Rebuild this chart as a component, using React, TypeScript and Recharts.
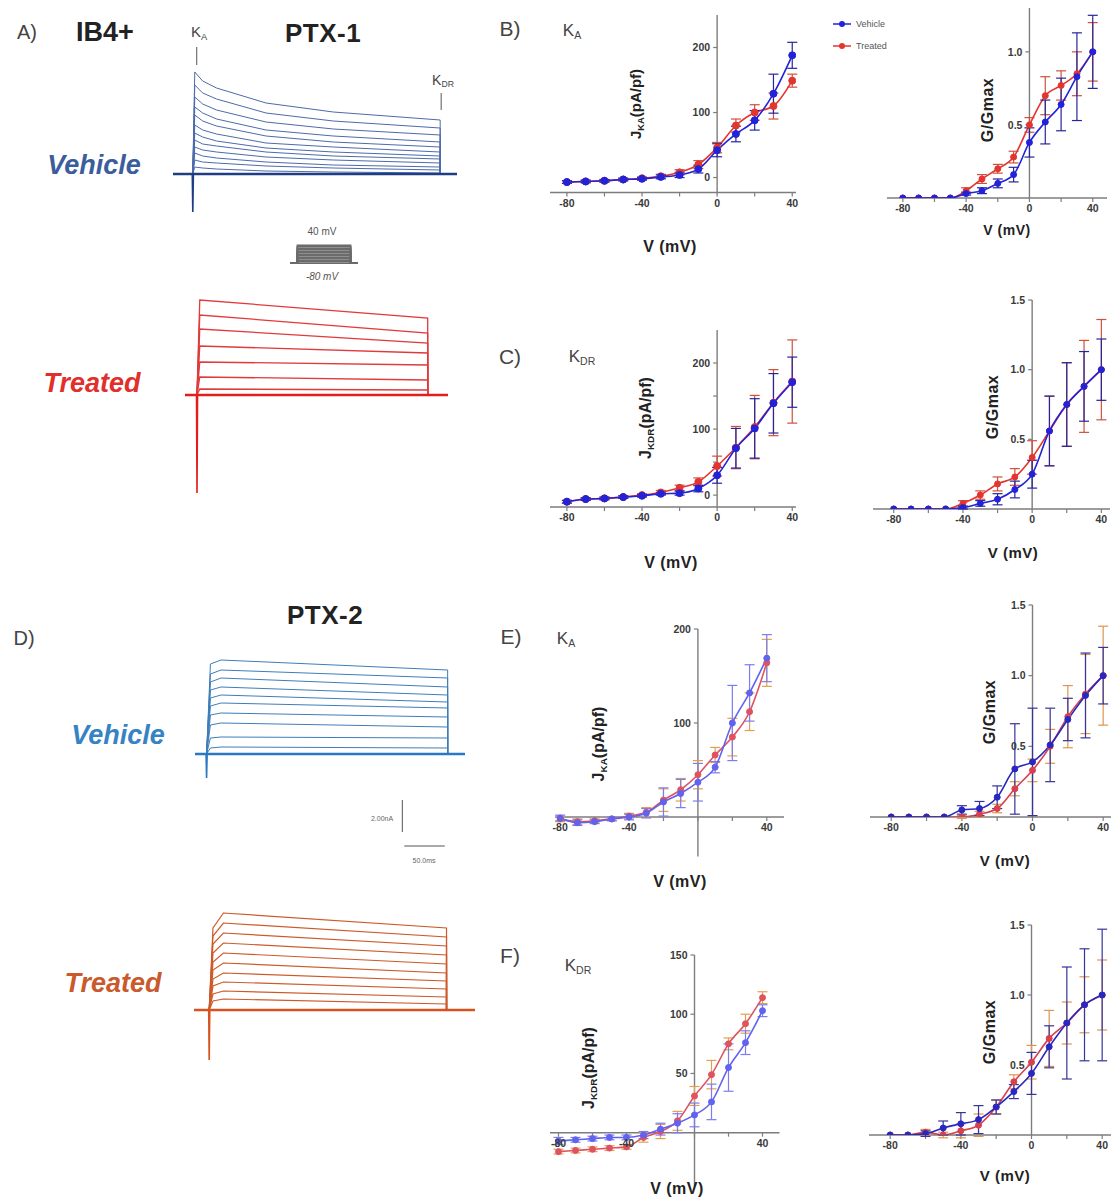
import React from "react";
import { LineChart, Line, XAxis, YAxis, ReferenceLine, ErrorBar, Legend } from "recharts";

const FONT = '"Liberation Sans", Arial, Helvetica, sans-serif';

// test potentials (mV)
const volts = [-80, -70, -60, -50, -40, -30, -20, -10, 0, 10, 20, 30, 40];

// B) KA, PTX-1 : current density and G/Gmax
const bIvVeh = [-7, -6, -5, -3, -2, 1, 4, 13, 42, 67, 88, 129, 188];
const bIvVehErr = [2, 2, 2, 2, 2, 3, 4, 6, 10, 12, 15, 30, 20];
const bIvTrt = [-7, -6, -5, -3, -1, 2, 8, 20, 46, 80, 100, 110, 149];
const bIvTrtErr = [2, 2, 2, 2, 2, 3, 4, 6, 8, 10, 12, 20, 10];
const bGVeh = [0, 0, 0, 0, 0.03, 0.05, 0.1, 0.16, 0.38, 0.52, 0.64, 0.83, 1.0];
const bGVehErr = [0, 0, 0, 0, 0.01, 0.02, 0.03, 0.05, 0.1, 0.15, 0.18, 0.3, 0.25];
const bGTrt = [0, 0, 0, 0, 0.05, 0.13, 0.2, 0.28, 0.5, 0.7, 0.77, 0.85, 1.0];
const bGTrtErr = [0, 0, 0, 0, 0.02, 0.03, 0.03, 0.04, 0.05, 0.13, 0.1, 0.15, 0.2];

// C) KDR, PTX-1
const cIvVeh = [-10, -6, -5, -3, -1, 2, 3, 10, 30, 71, 101, 139, 171];
const cIvVehErr = [2, 2, 2, 2, 2, 2, 3, 5, 12, 30, 45, 45, 38];
const cIvTrt = [-10, -6, -5, -3, 0, 4, 11, 20, 44, 72, 103, 140, 172];
const cIvTrtErr = [2, 2, 2, 2, 2, 3, 4, 6, 15, 32, 48, 50, 63];
const cGVeh = [0, 0, 0, 0, 0.01, 0.04, 0.07, 0.14, 0.25, 0.56, 0.75, 0.88, 1.0];
const cGVehErr = [0, 0, 0, 0, 0.01, 0.02, 0.04, 0.06, 0.1, 0.25, 0.3, 0.25, 0.22];
const cGTrt = [0, 0, 0, 0, 0.04, 0.1, 0.18, 0.23, 0.37, 0.56, 0.75, 0.88, 1.0];
const cGTrtErr = [0, 0, 0, 0, 0.02, 0.03, 0.05, 0.06, 0.12, 0.25, 0.3, 0.33, 0.36];

// E) KA, PTX-2
const eIvVeh = [-1, -6, -5, -2, 0, 4, 16, 25, 37, 53, 100, 132, 169];
const eIvVehErr = [3, 3, 2, 2, 3, 5, 15, 15, 20, 6, 40, 30, 25];
const eIvTrt = [-2, -5, -4, -2, 1, 5, 18, 29, 45, 66, 85, 112, 164];
const eIvTrtErr = [3, 3, 2, 2, 3, 5, 12, 12, 15, 8, 20, 20, 25];
const eGVeh = [0, 0, 0, 0, 0.05, 0.06, 0.14, 0.34, 0.39, 0.51, 0.69, 0.86, 1.0];
const eGVehErr = [0, 0, 0, 0, 0.03, 0.05, 0.08, 0.32, 0.38, 0.26, 0.15, 0.3, 0.2];
const eGTrt = [0, 0, 0, 0, 0, 0.02, 0.06, 0.2, 0.33, 0.5, 0.71, 0.87, 1.0];
const eGTrtErr = [0, 0, 0, 0, 0.01, 0.02, 0.03, 0.05, 0.08, 0.12, 0.22, 0.28, 0.35];

// F) KDR, PTX-2
const fIvVeh = [-7, -6, -5, -4, -4, -2, 3, 8, 15, 26, 55, 76, 103];
const fIvVehErr = [3, 2, 2, 2, 2, 3, 5, 8, 10, 15, 20, 10, 5];
const fIvTrt = [-16, -15, -14, -13, -12, -4, 1, 10, 31, 49, 75, 92, 114];
const fIvTrtErr = [2, 2, 2, 2, 2, 4, 6, 8, 8, 12, 5, 8, 5];
const fGVeh = [0, 0, 0.01, 0.05, 0.08, 0.11, 0.2, 0.31, 0.44, 0.63, 0.8, 0.93, 1.0];
const fGVehErr = [0, 0, 0.02, 0.05, 0.08, 0.1, 0.05, 0.05, 0.15, 0.15, 0.4, 0.4, 0.47];
const fGTrt = [0, 0, 0.02, 0, 0.03, 0.07, 0.2, 0.38, 0.52, 0.69, 0.8, 0.93, 1.0];
const fGTrtErr = [0, 0, 0.02, 0.02, 0.05, 0.08, 0.05, 0.05, 0.12, 0.2, 0.15, 0.2, 0.25];

// A) PTX-1 raw traces (arbitrary current units, ms)
const veh1Times = [2, 10, 24, 74, 142, 250];
const veh1Levels = [
  [102, 93, 86, 71, 62, 54],
  [89, 81, 75, 61, 53, 46],
  [77, 70, 64, 52, 45, 39],
  [67, 61, 55, 44, 38, 32],
  [59, 53, 48, 38, 32, 27],
  [49, 44, 40, 31, 27, 22],
  [41, 37, 33, 26, 22, 18],
  [34, 30, 28, 22, 18, 15],
  [27, 24, 22, 17, 14, 11],
  [21, 18, 16, 12, 9, 7],
  [14, 12, 11, 8, 6, 4],
  [7, 6, 5, 3, 2, 1],
];
const trt1Times = [3, 250];
const trt1Levels = [
  [95, 77],
  [80, 62],
  [66, 52],
  [49, 42],
  [33, 30],
  [18, 15],
  [6, 5],
];

// D) PTX-2 raw traces
const veh2Times = [4, 15, 250];
const veh2Levels = [
  [90, 94, 84],
  [80, 84, 76],
  [72, 76, 67],
  [64, 67, 59],
  [56, 59, 52],
  [48, 51, 46],
  [39, 41, 37],
  [29, 31, 27],
  [16, 17, 16],
  [6, 7, 6],
];
const trt2Times = [4, 15, 250];
const trt2Levels = [
  [82, 97, 82],
  [74, 87, 73],
  [66, 77, 64],
  [57, 67, 55],
  [48, 57, 46],
  [40, 47, 37],
  [31, 37, 29],
  [24, 28, 21],
  [16, 19, 13],
  [9, 11, 6],
];
const STEP_END = 250;

// voltage protocol (holding -80 mV, steps to +40 mV)
const protoSteps = volts;
const PROTO_HOLD = -80;
const PROTO_END = 58;

type Row = { v: number; veh: number; vehErr: number; trt: number; trtErr: number };
const rowsOf = (veh: number[], vehErr: number[], trt: number[], trtErr: number[]): Row[] =>
  volts.map((v, i) => ({ v, veh: veh[i], vehErr: vehErr[i], trt: trt[i], trtErr: trtErr[i] }));

const M = 30;
const AXIS = "#7d7d7d";
const TICK_TXT = "#3a3a3a";

function Sub({ children }: { children: React.ReactNode }) {
  return <span style={{ fontSize: "0.62em", verticalAlign: "-0.3em" }}>{children}</span>;
}

function T({
  x,
  y,
  size = 12,
  bold = false,
  italic = false,
  color = "#333",
  rot = false,
  spacing = 0,
  children,
}: {
  x: number;
  y: number;
  size?: number;
  bold?: boolean;
  italic?: boolean;
  color?: string;
  rot?: boolean;
  spacing?: number;
  children: React.ReactNode;
}) {
  return (
    <div
      style={{
        position: "absolute",
        left: x,
        top: y,
        transform: `translate(-50%,-50%)${rot ? " rotate(-90deg)" : ""}`,
        fontFamily: FONT,
        fontSize: size,
        fontWeight: bold ? 700 : 400,
        fontStyle: italic ? "italic" : "normal",
        letterSpacing: spacing,
        color,
        whiteSpace: "nowrap",
        lineHeight: 1,
      }}
    >
      {children}
    </div>
  );
}

const legendContent = (props: any) => {
  const items = [...(props.payload ?? [])].sort((a: any) => (a.value === "Vehicle" ? -1 : 1));
  return (
    <div style={{ fontFamily: FONT, fontSize: 9, color: "#555" }}>
      {items.map((p: any) => (
        <div key={p.value} style={{ display: "flex", alignItems: "center", height: 22 }}>
          <svg width={18} height={8}>
            <line x1={0} y1={4} x2={18} y2={4} stroke={p.color} strokeWidth={1.5} />
            <circle cx={9} cy={4} r={3} fill={p.color} />
          </svg>
          <span style={{ marginLeft: 5 }}>{p.value}</span>
        </div>
      ))}
    </div>
  );
};

/** IV or G/Gmax plot: x axis may float (GraphPad style), y axis sits at V = 0. */
function CurvePanel({
  px,
  py,
  xDom,
  yDom,
  rows,
  xAxisAt,
  yAxisFrom,
  xTicks,
  xLabels,
  yTicks,
  yLabels,
  digits = 0,
  vehColor,
  trtColor,
  vehErr,
  trtErr,
  dotR = 3,
  legend = false,
}: {
  px: [number, number];
  py: [number, number];
  xDom: [number, number];
  yDom: [number, number];
  rows: Row[];
  xAxisAt: number;
  yAxisFrom: number;
  xTicks: number[];
  xLabels: number[];
  yTicks: number[];
  yLabels: number[];
  digits?: number;
  vehColor: string;
  trtColor: string;
  vehErr: string;
  trtErr: string;
  dotR?: number;
  legend?: boolean;
}) {
  const w = px[1] - px[0];
  const h = py[1] - py[0];
  const xLen = 4 / (w / (xDom[1] - xDom[0]));
  const yLen = 4 / (h / (yDom[1] - yDom[0]));
  const lbl = (text: string, position: "bottom" | "left") => ({
    value: text,
    position,
    offset: 3,
    fill: TICK_TXT,
    fontSize: 10.5,
    fontWeight: 700,
    fontFamily: FONT,
  });
  return (
    <div style={{ position: "absolute", left: px[0] - M, top: py[0] - M }}>
      <LineChart width={w + 2 * M} height={h + 2 * M} data={rows} margin={{ top: M, right: M, bottom: M, left: M }}>
        <XAxis type="number" dataKey="v" domain={xDom} hide allowDataOverflow />
        <YAxis type="number" domain={yDom} hide allowDataOverflow />
        <ReferenceLine
          segment={[
            { x: xDom[0], y: xAxisAt },
            { x: xDom[1], y: xAxisAt },
          ]}
          stroke={AXIS}
          strokeWidth={1.4}
          ifOverflow="visible"
        />
        <ReferenceLine
          segment={[
            { x: 0, y: yAxisFrom },
            { x: 0, y: yDom[1] },
          ]}
          stroke={AXIS}
          strokeWidth={1.4}
          ifOverflow="visible"
        />
        {xTicks.map((t) => (
          <ReferenceLine
            key={`x${t}`}
            segment={[
              { x: t, y: xAxisAt - yLen },
              { x: t, y: xAxisAt },
            ]}
            stroke={AXIS}
            strokeWidth={1.2}
            ifOverflow="visible"
            label={xLabels.includes(t) ? lbl(String(t), "bottom") : undefined}
          />
        ))}
        {yTicks.map((t) => (
          <ReferenceLine
            key={`y${t}`}
            segment={[
              { x: -xLen, y: t },
              { x: 0, y: t },
            ]}
            stroke={AXIS}
            strokeWidth={1.2}
            ifOverflow="visible"
            label={yLabels.includes(t) ? lbl(t.toFixed(digits), "left") : undefined}
          />
        ))}
        <Line
          type="monotone"
          dataKey="trt"
          name="Treated"
          stroke={trtColor}
          strokeWidth={1.6}
          dot={{ r: dotR, fill: trtColor, stroke: trtColor, strokeWidth: 1 }}
          activeDot={false}
          isAnimationActive={false}
        >
          <ErrorBar dataKey="trtErr" width={5} stroke={trtErr} strokeWidth={1.2} direction="y" isAnimationActive={false} />
        </Line>
        <Line
          type="monotone"
          dataKey="veh"
          name="Vehicle"
          stroke={vehColor}
          strokeWidth={1.6}
          dot={{ r: dotR, fill: vehColor, stroke: vehColor, strokeWidth: 1 }}
          activeDot={false}
          isAnimationActive={false}
        >
          <ErrorBar dataKey="vehErr" width={5} stroke={vehErr} strokeWidth={1.2} direction="y" isAnimationActive={false} />
        </Line>
        {legend && (
          <Legend
            layout="vertical"
            align="center"
            verticalAlign="middle"
            content={legendContent}
            wrapperStyle={{ left: 833 - (px[0] - M), top: 13 - (py[0] - M), width: 90 }}
          />
        )}
      </LineChart>
    </div>
  );
}

/** Family of whole-cell current traces evoked by the step protocol. */
function TraceFamily({
  px,
  py,
  tDom,
  yDom,
  times,
  levels,
  spike,
  color,
  baseColor,
  width = 1,
  extras = [],
}: {
  px: [number, number];
  py: [number, number];
  tDom: [number, number];
  yDom: [number, number];
  times: number[];
  levels: number[][];
  spike: number;
  color: string;
  baseColor: string;
  width?: number;
  extras?: React.ReactElement[];
}) {
  const mt = 50;
  const mb = 120;
  const ml = 10;
  const mr = 10;
  const traces = levels.map((lv) => [
    { t: tDom[0], i: 0 },
    { t: 0, i: 0 },
    ...times.map((t, k) => ({ t, i: lv[k] })),
    { t: STEP_END, i: 0 },
    { t: tDom[1], i: 0 },
  ]);
  const base = [
    { t: tDom[0], i: 0 },
    { t: tDom[1], i: 0 },
  ];
  const spikeRows = [
    { t: -0.5, i: 0 },
    { t: 0, i: spike },
    { t: 0.6, i: 0 },
  ];
  return (
    <div style={{ position: "absolute", left: px[0] - ml, top: py[0] - mt }}>
      <LineChart
        width={px[1] - px[0] + ml + mr}
        height={py[1] - py[0] + mt + mb}
        margin={{ top: mt, right: mr, bottom: mb, left: ml }}
      >
        <XAxis type="number" dataKey="t" domain={tDom} hide allowDataOverflow />
        <YAxis type="number" dataKey="i" domain={yDom} hide allowDataOverflow />
        {traces.map((d, k) => (
          <Line
            key={k}
            data={d}
            dataKey="i"
            type="linear"
            stroke={color}
            strokeWidth={width}
            dot={false}
            activeDot={false}
            isAnimationActive={false}
          />
        ))}
        <Line data={base} dataKey="i" stroke={baseColor} strokeWidth={2.6} dot={false} activeDot={false} isAnimationActive={false} />
        <Line data={spikeRows} dataKey="i" stroke={baseColor} strokeWidth={1.6} dot={false} activeDot={false} isAnimationActive={false} />
        {extras}
      </LineChart>
    </div>
  );
}

/** Voltage-step protocol inset. */
function Protocol() {
  const px: [number, number] = [290, 358];
  const py: [number, number] = [244, 264];
  const tDom: [number, number] = [-8, 66];
  const yDom: [number, number] = [-85, 48];
  return (
    <div style={{ position: "absolute", left: px[0], top: py[0] }}>
      <LineChart width={px[1] - px[0]} height={py[1] - py[0]} margin={{ top: 0, right: 0, bottom: 0, left: 0 }}>
        <XAxis type="number" dataKey="t" domain={tDom} hide allowDataOverflow />
        <YAxis type="number" dataKey="mv" domain={yDom} hide allowDataOverflow />
        {protoSteps.map((v) => (
          <Line
            key={v}
            data={[
              { t: tDom[0], mv: PROTO_HOLD },
              { t: 0, mv: PROTO_HOLD },
              { t: 0, mv: v },
              { t: PROTO_END, mv: v },
              { t: PROTO_END, mv: PROTO_HOLD },
              { t: tDom[1], mv: PROTO_HOLD },
            ]}
            dataKey="mv"
            stroke="#6b6b6b"
            strokeWidth={1.6}
            dot={false}
            activeDot={false}
            isAnimationActive={false}
          />
        ))}
      </LineChart>
    </div>
  );
}

const bIvRows = rowsOf(bIvVeh, bIvVehErr, bIvTrt, bIvTrtErr);
const bGRows = rowsOf(bGVeh, bGVehErr, bGTrt, bGTrtErr);
const cIvRows = rowsOf(cIvVeh, cIvVehErr, cIvTrt, cIvTrtErr);
const cGRows = rowsOf(cGVeh, cGVehErr, cGTrt, cGTrtErr);
const eIvRows = rowsOf(eIvVeh, eIvVehErr, eIvTrt, eIvTrtErr);
const eGRows = rowsOf(eGVeh, eGVehErr, eGTrt, eGTrtErr);
const fIvRows = rowsOf(fIvVeh, fIvVehErr, fIvTrt, fIvTrtErr);
const fGRows = rowsOf(fGVeh, fGVehErr, fGTrt, fGTrtErr);

const xTicks20 = [-80, -60, -40, -20, 0, 20, 40];
const gTicks = [0.5, 1.0, 1.5];

const BLUE = "#2222d8";
const RED = "#e3352f";
const pc12 = { vehColor: BLUE, trtColor: RED, vehErr: "#26269a", trtErr: "#d0503c" };
const pcIv2 = { vehColor: "#6262f0", trtColor: "#df5260", vehErr: "#7c7cf0", trtErr: "#e3a04c" };
const pcG2 = { vehColor: "#2828c0", trtColor: "#d8404c", vehErr: "#34349c", trtErr: "#df9450" };

export default function App() {
  return (
    <div
      style={{
        position: "absolute",
        left: 0,
        top: 0,
        width: 1111,
        height: 1198,
        overflow: "hidden",
        background: "#fff",
        fontFamily: FONT,
      }}
    >
      {/* ---------- A) PTX-1 traces ---------- */}
      <T x={27} y={32} size={20} color="#444">A)</T>
      <T x={105} y={32} size={27} bold color="#222">IB4+</T>
      <T x={323} y={33} size={26} bold color="#222" spacing={0.5}>PTX-1</T>
      <T x={199} y={33} size={15} color="#444">
        K<Sub>A</Sub>
      </T>
      <T x={443} y={81} size={14} color="#444">
        K<Sub>DR</Sub>
      </T>
      <T x={94} y={165} size={27} bold italic color="#3b5d9c">Vehicle</T>
      <T x={92} y={383} size={27} bold italic color="#e1302c">Treated</T>
      <T x={322} y={232} size={10} color="#555">40 mV</T>
      <T x={322} y={277} size={10} italic color="#555">-80 mV</T>
      <Protocol />
      <TraceFamily
        px={[173, 457]}
        py={[64, 214]}
        tDom={[-20, 267]}
        yDom={[-40, 110]}
        times={veh1Times}
        levels={veh1Levels}
        spike={-38}
        color="#4d6bab"
        baseColor="#1f3d82"
        extras={[
          <ReferenceLine key="ka" segment={[{ x: 4, y: 127 }, { x: 4, y: 109 }]} stroke="#555" ifOverflow="visible" />,
          <ReferenceLine key="kdr" segment={[{ x: 251, y: 81 }, { x: 251, y: 64 }]} stroke="#555" ifOverflow="visible" />,
        ]}
      />
      <TraceFamily
        px={[185, 448]}
        py={[295, 495]}
        tDom={[-13, 272]}
        yDom={[-100, 100]}
        times={trt1Times}
        levels={trt1Levels}
        spike={-98}
        color="#e13a3a"
        baseColor="#e41c1c"
        width={1.3}
      />

      {/* ---------- D) PTX-2 traces ---------- */}
      <T x={24} y={638} size={20} color="#444">D)</T>
      <T x={325} y={615} size={26} bold color="#222" spacing={0.5}>PTX-2</T>
      <T x={118} y={735} size={27} bold italic color="#3583c4">Vehicle</T>
      <T x={113} y={983} size={27} bold italic color="#c95a2c">Treated</T>
      <T x={382} y={818} size={7} color="#666">2.00nA</T>
      <T x={424} y={860} size={7} color="#666">50.0ms</T>
      <TraceFamily
        px={[195, 465]}
        py={[654, 784]}
        tDom={[-12, 268]}
        yDom={[-30, 100]}
        times={veh2Times}
        levels={veh2Levels}
        spike={-24}
        color="#3e7db8"
        baseColor="#2a78c2"
        extras={[
          <ReferenceLine key="sv" segment={[{ x: 203, y: -46 }, { x: 203, y: -78 }]} stroke="#555" ifOverflow="visible" />,
          <ReferenceLine key="sh" segment={[{ x: 205, y: -92 }, { x: 247, y: -92 }]} stroke="#555" ifOverflow="visible" />,
        ]}
      />
      <TraceFamily
        px={[194, 475]}
        py={[910, 1065]}
        tDom={[-16, 280]}
        yDom={[-55, 100]}
        times={trt2Times}
        levels={trt2Levels}
        spike={-50}
        color="#cd5a2a"
        baseColor="#d6521e"
        width={1.2}
      />

      {/* ---------- B) KA PTX-1 ---------- */}
      <T x={510} y={28} size={21} color="#444">B)</T>
      <T x={572} y={31} size={17} color="#444">
        K<Sub>A</Sub>
      </T>
      <CurvePanel
        px={[550, 796]}
        py={[14.5, 192]}
        xDom={[-89, 42]}
        yDom={[-23, 250]}
        rows={bIvRows}
        xAxisAt={-23}
        yAxisFrom={-23}
        xTicks={xTicks20}
        xLabels={[-80, -40, 0, 40]}
        yTicks={[0, 100, 200]}
        yLabels={[0, 100, 200]}
        {...pc12}
        dotR={3.5}
      />
      <T x={637} y={104} size={15} bold rot color="#222">
        J<Sub>KA</Sub>(pA/pf)
      </T>
      <T x={670} y={247} size={16} bold color="#222" spacing={0.5}>V (mV)</T>
      <CurvePanel
        px={[887, 1107]}
        py={[8, 198]}
        xDom={[-90, 49]}
        yDom={[0, 1.3]}
        rows={bGRows}
        xAxisAt={0}
        yAxisFrom={0}
        xTicks={xTicks20}
        xLabels={[-80, -40, 0, 40]}
        yTicks={[0.5, 1.0]}
        yLabels={[0.5, 1.0]}
        digits={1}
        {...pc12}
        legend
      />
      <T x={988} y={110} size={16} bold rot color="#222" spacing={0.5}>G/Gmax</T>
      <T x={1007} y={230} size={14} bold color="#222" spacing={0.5}>V (mV)</T>

      {/* ---------- C) KDR PTX-1 ---------- */}
      <T x={510} y={356} size={21} color="#444">C)</T>
      <T x={582} y={357} size={17} color="#444">
        K<Sub>DR</Sub>
      </T>
      <CurvePanel
        px={[550, 796]}
        py={[330, 507]}
        xDom={[-89, 42]}
        yDom={[-18, 250]}
        rows={cIvRows}
        xAxisAt={-18}
        yAxisFrom={-18}
        xTicks={xTicks20}
        xLabels={[-80, -40, 0, 40]}
        yTicks={[0, 50, 100, 150, 200]}
        yLabels={[0, 100, 200]}
        {...pc12}
        dotR={3.5}
      />
      <T x={647} y={418} size={16} bold rot color="#222">
        J<Sub>KDR</Sub>(pA/pf)
      </T>
      <T x={671} y={563} size={16} bold color="#222" spacing={0.5}>V (mV)</T>
      <CurvePanel
        px={[873, 1110]}
        py={[300, 509]}
        xDom={[-92, 45]}
        yDom={[0, 1.5]}
        rows={cGRows}
        xAxisAt={0}
        yAxisFrom={0}
        xTicks={xTicks20}
        xLabels={[-80, -40, 0, 40]}
        yTicks={gTicks}
        yLabels={gTicks}
        digits={1}
        {...pc12}
      />
      <T x={993} y={407} size={16} bold rot color="#222" spacing={0.5}>G/Gmax</T>
      <T x={1013} y={552} size={15} bold color="#222" spacing={0.5}>V (mV)</T>

      {/* ---------- E) KA PTX-2 ---------- */}
      <T x={511} y={636} size={21} color="#444">E)</T>
      <T x={566} y={639} size={17} color="#444">
        K<Sub>A</Sub>
      </T>
      <CurvePanel
        px={[555, 784]}
        py={[629, 856.5]}
        xDom={[-83, 50]}
        yDom={[-42, 200]}
        rows={eIvRows}
        xAxisAt={0}
        yAxisFrom={-42}
        xTicks={xTicks20}
        xLabels={[-80, -40, 40]}
        yTicks={[100, 200]}
        yLabels={[100, 200]}
        {...pcIv2}
      />
      <T x={600} y={744} size={16} bold rot color="#222">
        J<Sub>KA</Sub>(pA/pf)
      </T>
      <T x={680} y={882} size={16} bold color="#222" spacing={0.5}>V (mV)</T>
      <CurvePanel
        px={[870, 1112]}
        py={[605, 817]}
        xDom={[-92, 45]}
        yDom={[0, 1.5]}
        rows={eGRows}
        xAxisAt={0}
        yAxisFrom={0}
        xTicks={xTicks20}
        xLabels={[-80, -40, 0, 40]}
        yTicks={gTicks}
        yLabels={gTicks}
        digits={1}
        {...pcG2}
      />
      <T x={990} y={712} size={16} bold rot color="#222" spacing={0.5}>G/Gmax</T>
      <T x={1005} y={860} size={15} bold color="#222" spacing={0.5}>V (mV)</T>

      {/* ---------- F) KDR PTX-2 ---------- */}
      <T x={510} y={955} size={21} color="#444">F)</T>
      <T x={578} y={966} size={17} color="#444">
        K<Sub>DR</Sub>
      </T>
      <CurvePanel
        px={[549.5, 779]}
        py={[955, 1186]}
        xDom={[-85, 50]}
        yDom={[-45, 150]}
        rows={fIvRows}
        xAxisAt={0}
        yAxisFrom={-45}
        xTicks={xTicks20}
        xLabels={[-80, -40, 40]}
        yTicks={[50, 100, 150]}
        yLabels={[50, 100, 150]}
        {...pcIv2}
      />
      <T x={590} y={1068} size={16} bold rot color="#222">
        J<Sub>KDR</Sub>(pA/pf)
      </T>
      <T x={677} y={1189} size={16} bold color="#222" spacing={0.5}>V (mV)</T>
      <CurvePanel
        px={[869, 1111]}
        py={[925, 1135]}
        xDom={[-92, 45]}
        yDom={[0, 1.5]}
        rows={fGRows}
        xAxisAt={0}
        yAxisFrom={0}
        xTicks={xTicks20}
        xLabels={[-80, -40, 0, 40]}
        yTicks={gTicks}
        yLabels={gTicks}
        digits={1}
        {...pcG2}
      />
      <T x={990} y={1032} size={16} bold rot color="#222" spacing={0.5}>G/Gmax</T>
      <T x={1005} y={1175} size={15} bold color="#222" spacing={0.5}>V (mV)</T>
    </div>
  );
}
